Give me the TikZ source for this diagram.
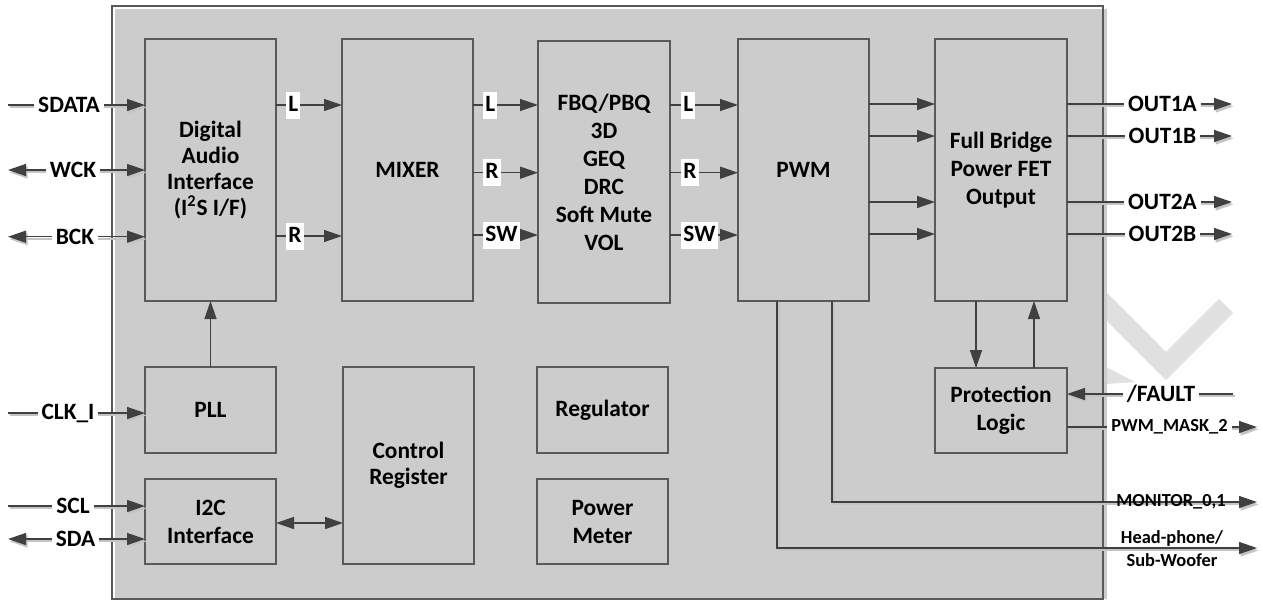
\documentclass[tikz,border=0pt]{standalone}
\usepackage{fontspec}
\setmainfont{Carlito}
\usetikzlibrary{arrows.meta}
\definecolor{boxfill}{HTML}{CCCCCC}
\definecolor{linec}{HTML}{404040}
\definecolor{edgec}{HTML}{595959}
\definecolor{wmark}{HTML}{E0E0E0}
\definecolor{shadowc}{HTML}{C4C4C4}
\newcommand\blk[7][]{\node[blk, #1, minimum width={(#5-#3)*0.5pt}, minimum height={(#6-#4)*0.5pt}] (#2) at ({(#3+#5)/2},{(#4+#6)/2}) {#7};}
\begin{document}
\begin{tikzpicture}[x=0.5pt,y=-0.5pt,
  font=\fontsize{11.7}{14}\selectfont\bfseries,
  blk/.style={draw=edgec, line width=0.75pt, fill=boxfill, align=center, inner sep=0pt, outer sep=0pt},
  tight/.style={font=\fontsize{11.7}{13}\selectfont\bfseries},
  conn/.style={draw=linec, line width=0.7pt},
  tip/.style={-{Triangle[length=9pt,width=6pt]}},
  tips/.style={{Triangle[length=9pt,width=6pt]}-{Triangle[length=9pt,width=6pt]}},
  shad/.style={preaction={draw=shadowc, line width=1pt, transform canvas={xshift=0.8pt,yshift=-1.2pt}}},
  lbl/.style={fill=white, inner xsep=1pt, inner ysep=1.75pt, text height=8pt, text depth=2pt, anchor=west},
  pin/.style={fill=white, inner xsep=2pt, inner ysep=1pt},
  small/.style={font=\fontsize{9.2}{10.8}\selectfont\bfseries, align=center}
]
\useasboundingbox (0,0) rectangle (1263,601);
% watermark
\draw[wmark, line width=10pt, line join=miter, line cap=butt] (1095,295) -- (1166,366) -- (1226,306);
\fill[wmark] (1106,367) -- (1135,382) -- (1106,384) -- cycle;
% main chip box
\fill[boxfill] (115,9) rectangle (1107,599);
\draw[edgec, line width=0.9pt] (112,6) rectangle (1103,599);
% blocks
\blk[tight]{dai}{145}{39}{276}{301}{Digital\\Audio\\Interface\\(I\textsuperscript{2}S I/F)}
\blk{mix}{342}{39}{473}{301}{MIXER}
\blk{fbq}{538}{41}{670}{303}{FBQ/PBQ\\3D\\GEQ\\DRC\\Soft Mute\\VOL}
\blk{pwm}{738}{39}{869}{301}{PWM}
\blk{fbr}{935}{39}{1067}{301}{Full Bridge\\Power FET\\Output}
\blk{pll}{145}{367}{276}{453}{PLL}
\blk{i2c}{145}{479}{276}{564}{I2C\\Interface}
\blk[tight]{cr}{343}{367}{474}{564}{Control\\Register}
\blk{reg}{537}{367}{668}{453}{Regulator}
\blk{pm}{537}{479}{668}{564}{Power\\Meter}
\blk{pl}{935}{368}{1067}{453}{Protection\\Logic}
% internal connectors
\draw[conn,tip] (dai.east |- 0,105) -- (mix.west |- 0,105);
\draw[conn,tip] (dai.east |- 0,236) -- (mix.west |- 0,236);
\node[lbl] (lblDL) at (286,105) {L};
\node[lbl] (lblDR) at (286,236) {R};
\foreach \y/\t/\n in {105/L/a,172.7/R/b,235/SW/c}{
  \draw[conn,tip] (mix.east |- 0,\y) -- (fbq.west |- 0,\y);
  \node[lbl] (lblM\n) at (483,\y) {\t};
  \draw[conn,tip] (fbq.east |- 0,\y) -- (pwm.west |- 0,\y);
  \node[lbl] (lblF\n) at (681,\y) {\t};
}
\foreach \y in {104,136,202,234}{
  \draw[conn,tip] (pwm.east |- 0,\y) -- (fbr.west |- 0,\y);
}
\draw[conn,tip] (pll.north) -- (dai.south);
\draw[conn,tips] (i2c.east |- 0,523) -- (cr.west |- 0,523);
\draw[conn,tip] (976,0 |- fbr.south) -- (976,0 |- pl.north);
\draw[conn,tip] (1034,0 |- pl.north) -- (1034,0 |- fbr.south);
% left pins
\coordinate (pSDATA) at (8,105);
\coordinate (pWCK) at (8,170);
\coordinate (pBCK) at (8,236.7);
\coordinate (pCLK) at (8,413);
\coordinate (pSCL) at (8,506);
\coordinate (pSDA) at (8,539);
\draw[conn,shad,tip] (pSDATA) -- (dai.west |- pSDATA);
\draw[conn,shad,tips] (pWCK) -- (dai.west |- pWCK);
\draw[conn,shad,tips] (pBCK) -- (dai.west |- pBCK);
\draw[conn,shad,tip] (pCLK) -- (pll.west |- pCLK);
\draw[conn,shad,tip] (pSCL) -- (i2c.west |- pSCL);
\draw[conn,shad,tips] (pSDA) -- (i2c.west |- pSDA);
\node[pin] (tSDATA) at (69,105) {SDATA};
\node[pin] (tWCK) at (73,170) {WCK};
\node[pin] (tBCK) at (75,236.7) {BCK};
\node[pin] (tCLK) at (68,413) {CLK\_I};
\node[pin] (tSCL) at (73,506) {SCL};
\node[pin] (tSDA) at (75.5,539) {SDA};
% right pins
\foreach \y/\t/\n in {104/OUT1A/a,136/OUT1B/b,202/OUT2A/c,234/OUT2B/d}{
  \coordinate (qOut\n) at (1232,\y);
  \draw[conn,shad,tip] (fbr.east |- qOut\n) -- (qOut\n);
  \node[pin] (tOut\n) at (1162.5,\y) {\t};
}
\coordinate (qF) at (1233,394);
\draw[conn,shad,tip] (qF) -- (pl.east |- qF);
\node[pin] (tF) at (1161,394) {/FAULT};
\coordinate (qM) at (1257,427);
\draw[conn,shad,tip] (pl.east |- qM) -- (qM);
\node[pin, small, inner ysep=0.5pt] (tM) at (1169.5,427) {PWM\_MASK\_2};
\coordinate (qMon) at (1257,502);
\draw[conn,shad,tip] (832,0 |- pwm.south) |- (qMon);
\node[small] (tMon) at (1171,502) {MONITOR\_0,1};
\coordinate (qHP) at (1257,548);
\draw[conn,shad,tip] (777,0 |- pwm.south) |- (qHP);
\node[small] (tHP1) at (1172,538) {Head-phone/};
\node[small] (tHP2) at (1172,560) {Sub-Woofer};
\end{tikzpicture}
\end{document}
